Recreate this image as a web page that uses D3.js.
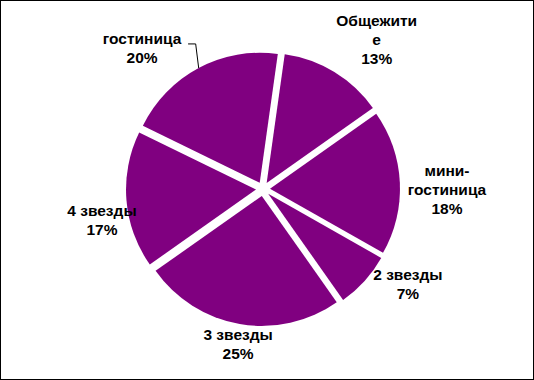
<!DOCTYPE html>
<html><head><meta charset="utf-8">
<script src="https://cdn.jsdelivr.net/npm/d3@7"></script>
<style>body{margin:0;background:#fff}svg{display:block}</style>
</head><body>
<script>
const categories = ["Общежитие", "мини-гостиница", "2 звезды", "3 звезды", "4 звезды", "гостиница"];
const values = [13, 18, 7, 25, 17, 20];
const labelLines = [["Общежити","е","13%"],["мини-","гостиница","18%"],["2 звезды","7%"],["3 звезды","25%"],["4 звезды","17%"],["гостиница","20%"]];
// label placement (polar, degrees clockwise from top; distance in px from pie centre)
const labelAngle = [37.2, 90.3, 123.4, 189.1, 259.1, 319.4];
const labelDist = [188, 184, 173.6, 157.5, 164, 185.8];

const W = 534, H = 380;
const cx = 263, cy = 189, R = 130, explode = 7;
const startDeg = 8;
const color = "#800080";

const svg = d3.select("body").append("svg").attr("width", W).attr("height", H);
svg.append("rect").attr("x", 0.5).attr("y", 0.5).attr("width", W - 1).attr("height", H - 1)
  .attr("fill", "#fff").attr("stroke", "#000").attr("stroke-width", 1);

const rad = d => d * Math.PI / 180;
const pie = d3.pie().sort(null).value(d => d)
  .startAngle(rad(startDeg)).endAngle(rad(startDeg + 360));
const arcs = pie(values);
const arc = d3.arc().innerRadius(0).outerRadius(R);

const g = svg.append("g").attr("transform", `translate(${cx},${cy})`);
g.selectAll("path").data(arcs).join("path")
  .attr("d", arc)
  .attr("fill", color)
  .attr("transform", d => {
    const [x, y] = d3.pointRadial((d.startAngle + d.endAngle) / 2, explode);
    return `translate(${x},${y})`;
  });

const font = "'Liberation Sans', Arial, sans-serif";
const lh = 19;
arcs.forEach((d, i) => {
  const [x, y] = d3.pointRadial(rad(labelAngle[i]), labelDist[i]);
  const lines = labelLines[i];
  const t = g.append("text").attr("text-anchor", "middle")
    .attr("font-family", font).attr("font-weight", "bold").attr("font-size", "15.5px").attr("fill", "#000");
  lines.forEach((s, j) => {
    t.append("tspan").attr("x", x).attr("y", y - (lines.length - 1) * lh / 2 + j * lh).attr("dy", "0.35em").text(s);
  });
});

// leader line for "гостиница"
{
  const i = 5, d = arcs[i];
  const mid = (d.startAngle + d.endAngle) / 2;
  const [ex, ey] = d3.pointRadial(mid, R + explode);
  const [lx, ly] = d3.pointRadial(rad(labelAngle[i]), labelDist[i]);
  g.append("path")
    .attr("d", d3.line()([[lx + 46, ly - 4], [ex - 3, ly - 4], [ex, ey]]))
    .attr("fill", "none").attr("stroke", "#000").attr("stroke-width", 1);
}
</script>
</body></html>
